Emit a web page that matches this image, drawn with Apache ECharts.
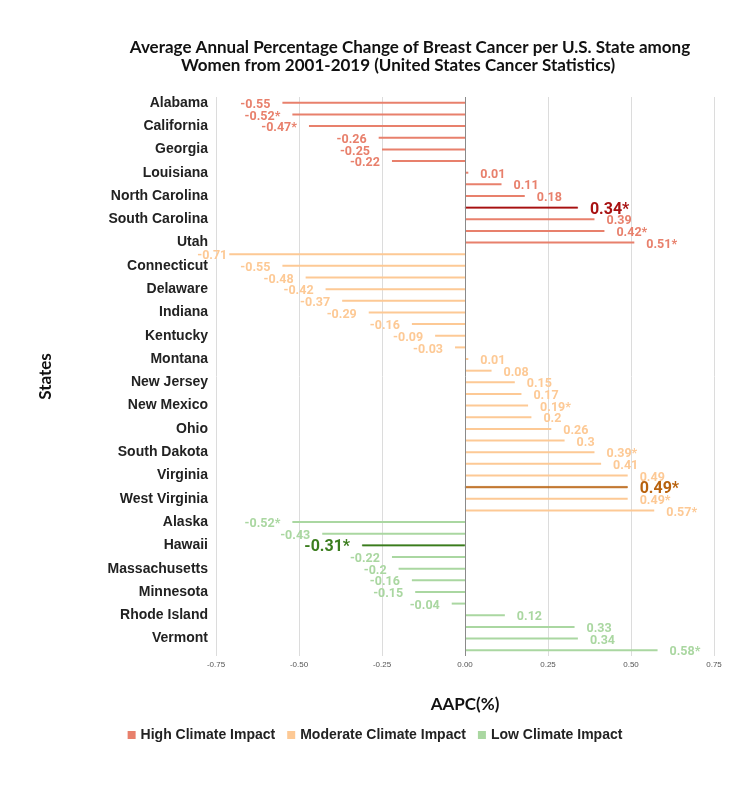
<!DOCTYPE html>
<html>
<head>
<meta charset="utf-8">
<script src="https://cdn.jsdelivr.net/npm/echarts@6/dist/echarts.min.js"></script>
<style>
  html, body { margin: 0; padding: 0; background: #fff; }
  #chart { width: 750px; height: 790px; }
</style>
</head>
<body>
<div id="chart"></div>
<script>
const highStates = ['Alabama', 'Arizona', 'California', 'Florida', 'Georgia', 'Kansas', 'Louisiana',
  'Mississippi', 'North Carolina', 'Oklahoma', 'South Carolina', 'Texas', 'Utah']
const highValues = [-0.55, -0.52, -0.47, -0.26, -0.25, -0.22, 0.01, 0.11, 0.18, 0.34, 0.39, 0.42, 0.51]
const highSig = [0, 1, 1, 0, 0, 0, 0, 0, 0, 1, 0, 1, 1]

const moderateStates = ['Colorado', 'Connecticut', 'District of Columbia', 'Delaware', 'Illinois', 'Indiana',
  'Iowa', 'Kentucky', 'Maryland', 'Montana', 'Nebraska', 'New Jersey', 'New Hampshire', 'New Mexico',
  'New York', 'Ohio', 'Pennsylvania', 'South Dakota', 'Tennessee', 'Virginia', 'Washington',
  'West Virginia', 'Wyoming']
const moderateValues = [-0.71, -0.55, -0.48, -0.42, -0.37, -0.29, -0.16, -0.09, -0.03, 0.01, 0.08, 0.15,
  0.17, 0.19, 0.2, 0.26, 0.3, 0.39, 0.41, 0.49, 0.49, 0.49, 0.57]
const moderateSig = [0, 0, 0, 0, 0, 0, 0, 0, 0, 0, 0, 0, 0, 1, 0, 0, 0, 1, 0, 0, 1, 1, 1]

const lowStates = ['Alaska', 'Nevada', 'Hawaii', 'Maine', 'Massachusetts', 'Michigan', 'Minnesota',
  'North Dakota', 'Rhode Island', 'Oregon', 'Vermont', 'Wisconsin']
const lowValues = [-0.52, -0.43, -0.31, -0.22, -0.2, -0.16, -0.15, -0.04, 0.12, 0.33, 0.34, 0.58]
const lowSig = [1, 0, 1, 0, 0, 0, 0, 0, 0, 0, 0, 1]

// one highlighted state per group (index inside its group)
const highlight = { high: 9, moderate: 20, low: 2 }

const xTicks = { min: -0.75, max: 0.75, interval: 0.25 }

const categories = highStates.concat(moderateStates, lowStates)

const groups = [
  { key: 'high', name: 'High Climate Impact', values: highValues, sig: highSig, color: '#E8806C', dark: '#A81212', offset: 0 },
  { key: 'moderate', name: 'Moderate Climate Impact', values: moderateValues, sig: moderateSig, color: '#FDC995', dark: '#B8620E', offset: highValues.length },
  { key: 'low', name: 'Low Climate Impact', values: lowValues, sig: lowSig, color: '#AAD7A1', dark: '#3B7D1E', offset: highValues.length + moderateValues.length },
]

const series = groups.map((g, gi) => {
  const data = categories.map(() => '-')
  g.values.forEach((v, i) => {
    const isHl = highlight[g.key] === i
    const item = {
      value: v,
      star: g.sig[i] ? '*' : '',
      label: {
        position: v < 0 ? 'left' : 'right',
        color: isHl ? g.dark : g.color,
        fontSize: isHl ? 16 : 12.5,
      },
    }
    // the longest bar's label sits tight against the plot edge
    if (v < -0.65) item.label.distance = 2
    if (isHl) {
      item.itemStyle = { color: g.dark, borderColor: g.dark, borderWidth: 0.6 }
    }
    data[g.offset + i] = item
  })
  const s = {
    name: g.name,
    type: 'bar',
    stack: 'all',
    barWidth: 2,
    data: data,
    itemStyle: { color: g.color },
    label: {
      show: true,
      distance: 12,
      offset: [0, 2],
      fontFamily: 'Roboto',
      fontWeight: 'bold',
      formatter: p => p.value + p.data.star,
    },
  }
  if (gi === 2) {
    s.markLine = {
      silent: true,
      symbol: 'none',
      label: { show: false },
      lineStyle: { color: '#8a8a8a', width: 1, type: 'solid' },
      data: [{ xAxis: 0 }],
    }
  }
  return s
})

const option = {
  animation: false,
  color: groups.map(g => g.color),
  title: [
    {
      text: 'Average Annual Percentage Change of Breast Cancer per U.S. State among',
      left: 405, top: 34, textAlign: 'center',
      textStyle: { fontFamily: 'Lato', fontWeight: 'bold', fontSize: 17, color: '#111' },
    },
    {
      text: 'Women from 2001-2019 (United States Cancer Statistics)',
      left: 393, top: 52, textAlign: 'center',
      textStyle: { fontFamily: 'Lato', fontWeight: 'bold', fontSize: 17, color: '#111' },
    },
  ],
  legend: {
    bottom: 43,
    left: 'center',
    icon: 'rect',
    itemWidth: 8,
    itemHeight: 8,
    itemGap: 12,
    textStyle: { fontFamily: 'Liberation Sans', fontWeight: 'bold', fontSize: 14, color: '#222' },
    data: groups.map(g => g.name),
  },
  grid: { left: 216, right: 36, top: 97, bottom: 134 },
  xAxis: {
    type: 'value',
    min: xTicks.min,
    max: xTicks.max,
    interval: xTicks.interval,
    name: 'AAPC(%)',
    nameLocation: 'middle',
    nameGap: 40,
    nameTextStyle: { fontFamily: 'Lato', fontWeight: 'bold', fontSize: 17, color: '#111' },
    axisLine: { show: false },
    axisTick: { show: false },
    axisLabel: { fontSize: 8, color: '#555', margin: 5, formatter: v => v.toFixed(2) },
    splitLine: { lineStyle: { color: '#dcdcdc' } },
  },
  yAxis: {
    type: 'category',
    inverse: true,
    data: categories,
    name: 'States',
    nameLocation: 'middle',
    nameGap: 162,
    nameTextStyle: { fontFamily: 'Lato', fontWeight: 'bold', fontSize: 17, color: '#111' },
    axisLine: { show: false, onZero: false },
    axisTick: { show: false },
    axisLabel: {
      interval: 1,
      margin: 8,
      fontFamily: 'Liberation Sans',
      fontWeight: 'bold',
      fontSize: 14,
      color: '#222',
    },
  },
  series: series,
}

const chart = echarts.init(document.getElementById('chart'))
chart.setOption(option)
</script>
</body>
</html>
